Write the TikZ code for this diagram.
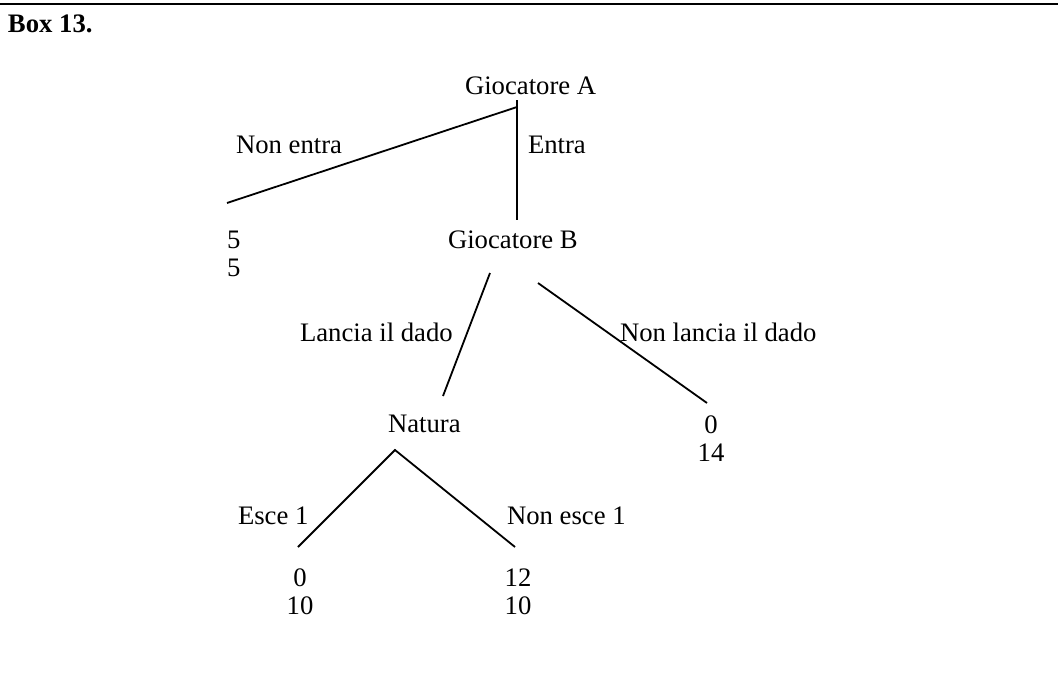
\documentclass[tikz,border=0pt]{standalone}
\usepackage{fontspec}
\setmainfont{Liberation Serif}
\begin{document}
\begin{tikzpicture}[x=1pt,y=-1pt,
  lbl/.style={inner sep=0pt, outer sep=0pt, font=\fontsize{26.7pt}{32pt}\selectfont, anchor=base west},
  num/.style={inner sep=0pt, outer sep=0pt, font=\fontsize{26.7pt}{32pt}\selectfont, anchor=base},
  edge/.style={line width=1.8pt, line cap=butt}]
\useasboundingbox (0,0) rectangle (1058,680);
\coordinate (tl) at (0,4);
\coordinate (tr) at (1058,4);
\draw[line width=2.6pt] (tl) -- (tr);
\node[lbl, font=\fontsize{26.7pt}{32pt}\selectfont\bfseries] (title) at (8,32) {Box 13.};
% decision nodes
\node[lbl] (GA) at (465,94) {Giocatore A};
\node[lbl] (GB) at (448,248) {Giocatore B};
\node[lbl] (NAT) at (388,432) {Natura};
% action labels
\node[lbl] (nonentra) at (236,153) {Non entra};
\node[lbl] (entra) at (528,153) {Entra};
\node[lbl] (lancia) at (300,341) {Lancia il dado};
\node[lbl] (nonlancia) at (620,341) {Non lancia il dado};
\node[lbl] (esce) at (238,524) {Esce 1};
\node[lbl] (nonesce) at (507,524) {Non esce 1};
% payoffs
\node[lbl] (p1a) at (227,248) {5};
\node[lbl] (p1b) at (227,276) {5};
\node[num] (p2a) at (711,433) {0};
\node[num] (p2b) at (711,461) {14};
\node[num] (p3a) at (300,586) {0};
\node[num] (p3b) at (300,614) {10};
\node[num] (p4a) at (518,586) {12};
\node[num] (p4b) at (518,614) {10};
% edge end points
\coordinate (aTop) at (517,100);
\coordinate (aL) at (517,107);
\coordinate (nonEnd) at (227,203);
\coordinate (bTop) at (517,220);
\coordinate (bL) at (490,273);
\coordinate (natTop) at (443,396);
\coordinate (bR) at (538,283);
\coordinate (rEnd) at (707,403);
\coordinate (natApex) at (395,450);
\coordinate (leftEnd) at (298,547);
\coordinate (rightEnd) at (515,547);
\draw[edge] (aL) -- (nonEnd);
\draw[edge] (aTop) -- (bTop);
\draw[edge] (bL) -- (natTop);
\draw[edge] (bR) -- (rEnd);
\draw[edge] (leftEnd) -- (natApex) -- (rightEnd);
\end{tikzpicture}
\end{document}
